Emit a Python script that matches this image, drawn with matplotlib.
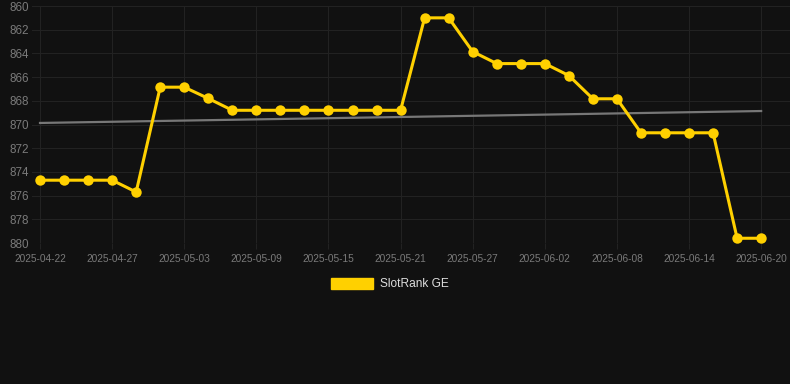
import matplotlib
matplotlib.use("Agg")
import matplotlib.pyplot as plt
import numpy as np
from matplotlib.patches import Patch

dates = ["2025-04-22", "2025-04-24", "2025-04-25", "2025-04-27", "2025-04-29", "2025-05-01",
         "2025-05-03", "2025-05-05", "2025-05-07", "2025-05-09", "2025-05-11", "2025-05-13",
         "2025-05-15", "2025-05-17", "2025-05-19", "2025-05-21", "2025-05-23", "2025-05-25",
         "2025-05-27", "2025-05-29", "2025-05-31", "2025-06-02", "2025-06-04", "2025-06-06",
         "2025-06-08", "2025-06-10", "2025-06-12", "2025-06-14", "2025-06-16", "2025-06-18",
         "2025-06-20"]
rank = [874.7, 874.7, 874.7, 874.7, 875.7, 866.85, 866.85, 867.8,
        868.8, 868.8, 868.8, 868.8, 868.8, 868.8, 868.8, 868.8,
        861.0, 861.0, 863.85, 864.86, 864.86, 864.86, 865.87, 867.83, 867.83,
        870.7, 870.7, 870.7, 870.7, 879.6, 879.6]
y_ticks = [860, 862, 864, 866, 868, 870, 872, 874, 876, 878, 880]
series_name = "SlotRank GE"

plt.rcParams['font.family'] = ['Liberation Sans', 'DejaVu Sans']
BG = "#111111"
YELLOW = "#FFD000"

fig = plt.figure(figsize=(7.9, 3.84), dpi=100, facecolor=BG)
W, H = 790, 384
ax = fig.add_axes([32 / W, 1 - 243 / H, (790 - 32) / W, (243 - 6) / H])
ax.set_facecolor(BG)

x = np.arange(len(rank))
coef = np.polyfit(x, rank, 1)
ax.plot(x, np.polyval(coef, x), color="#777777", lw=1.6, zorder=2)
ax.plot(x, rank, color=YELLOW, lw=2.2, marker='o', markersize=7.5,
        markeredgewidth=0, zorder=3, clip_on=False)

ax.set_ylim(880, 860)
ax.set_xlim(-0.333, 31.2)
ax.set_yticks(y_ticks)
ax.set_yticklabels([str(v) for v in y_ticks])
tick_idx = list(range(0, len(dates), 3))
ax.set_xticks(tick_idx)
ax.set_xticklabels([dates[i] for i in tick_idx])

ax.grid(True, color="#222222", lw=0.8)
ax.set_axisbelow(True)
for s in ax.spines.values():
    s.set_visible(False)
ax.tick_params(axis='y', length=0, pad=2, labelsize=8.4, labelcolor="#7a7a7a")
ax.tick_params(axis='x', length=4, color="#222222", pad=4, labelsize=7.3, labelcolor="#7a7a7a")

handle = Patch(facecolor=YELLOW, edgecolor=YELLOW)
leg = fig.legend([handle], [series_name], loc='center',
                 bbox_to_anchor=(390 / W, 1 - 284 / H), frameon=False,
                 handlelength=3.5, handleheight=1.1, handletextpad=0.55,
                 fontsize=8.6, labelcolor="#dddddd")

fig.savefig("out.png", dpi=100, facecolor=BG)
